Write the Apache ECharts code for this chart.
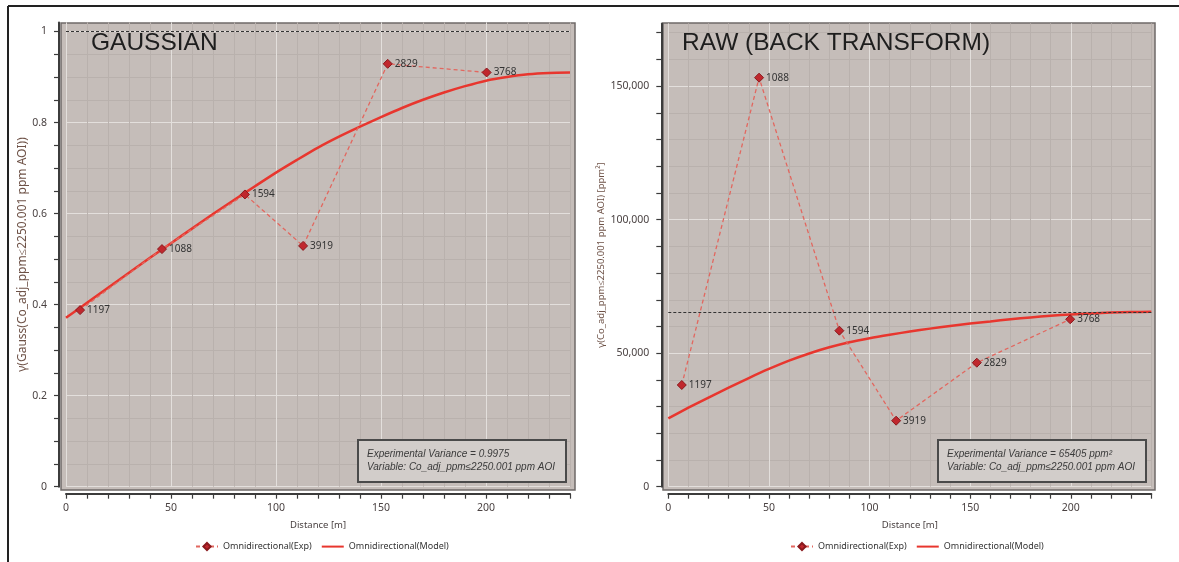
<!DOCTYPE html>
<html><head><meta charset="utf-8">
<script src="https://cdn.jsdelivr.net/npm/echarts@6/dist/echarts.min.js"></script>
<style>html,body{margin:0;padding:0;background:#fff}#c{width:1179px;height:562px}</style>
</head><body><div id="c"></div>
<script>
// ---------- data ----------
const lagPairs = ['1197', '1088', '1594', '3919', '2829', '3768'];

const gaussLagDist  = [6.7, 45.7, 85.2, 112.9, 153.2, 200.3];
const gaussLagGamma = [0.388, 0.522, 0.642, 0.529, 0.929, 0.910];
const gaussModelDist  = [0, 10, 20, 30, 40, 50, 60, 70, 80, 90, 100, 110, 120, 130, 140, 150, 160, 170, 180, 190, 200, 210, 220, 230, 240];
const gaussModelGamma = [0.371, 0.404, 0.437, 0.470, 0.503, 0.535, 0.567, 0.599, 0.630, 0.660, 0.690, 0.718, 0.745, 0.769, 0.791, 0.812, 0.832, 0.850, 0.866, 0.880, 0.892, 0.900, 0.906, 0.909, 0.910];
const gaussSill = 0.9975;

const rawLagDist  = [6.7, 45.1, 85.0, 113.2, 153.3, 199.7];
const rawLagGamma = [38090, 153180, 58430, 24720, 46440, 62700];
const rawModelDist  = [0, 10, 20, 30, 40, 50, 60, 70, 80, 90, 100, 110, 120, 130, 140, 150, 160, 170, 180, 190, 200, 210, 220, 230, 240];
const rawModelGamma = [25600, 29600, 33400, 37100, 40700, 44100, 47200, 49900, 52200, 54100, 55600, 56900, 58100, 59200, 60200, 61100, 61900, 62700, 63400, 64000, 64500, 64900, 65200, 65400, 65500];
const rawSill = 65405;

const xTickValues  = [0, 10, 20, 30, 40, 50, 60, 70, 80, 90, 100, 110, 120, 130, 140, 150, 160, 170, 180, 190, 200, 210, 220, 230, 240];
const xLabelValues = [0, 50, 100, 150, 200];
const gaussYTickValues  = [0, 0.05, 0.1, 0.15, 0.2, 0.25, 0.3, 0.35, 0.4, 0.45, 0.5, 0.55, 0.6, 0.65, 0.7, 0.75, 0.8, 0.85, 0.9, 0.95, 1];
const gaussYLabelValues = [0, 0.2, 0.4, 0.6, 0.8, 1];
const rawYTickValues  = [0, 10000, 20000, 30000, 40000, 50000, 60000, 70000, 80000, 90000, 100000, 110000, 120000, 130000, 140000, 150000, 160000, 170000];
const rawYLabelValues = [0, 50000, 100000, 150000];

const expName = 'Omnidirectional(Exp)';
const modelName = 'Omnidirectional(Model)';

// ---------- styles ----------
const FONT = 'Noto Sans';
const MAJ = '#e3dfdc', MIN = '#b9b1ad';
const AX = '#3c3c3c';
const zip = (a, b) => a.map((v, i) => [v, b[i]]);

function xAxisCfg(grid) {
  return {
    gridIndex: grid, type: 'value', min: 0, max: 240, interval: 10, offset: 7,
    axisLine: { onZero: false, lineStyle: { color: AX, width: 2 } },
    axisTick: { length: 5, lineStyle: { color: AX, width: 1.2 }, customValues: xTickValues },
    axisLabel: { customValues: xLabelValues, fontSize: 10.5, color: '#4a4242', margin: 9, fontFamily: FONT },
    splitLine: { show: true, lineStyle: { color: [MAJ, MIN, MIN, MIN, MIN], width: 1 } },
    name: 'Distance [m]', nameLocation: 'middle', nameGap: 27,
    nameTextStyle: { fontSize: 9.5, color: '#4a4242', fontFamily: FONT }
  };
}
function yAxisCfg(grid, max, interval, ticks, labels, cycle, name, gap, nameSize) {
  return {
    gridIndex: grid, type: 'value', min: 0, max: max, interval: interval, offset: 7,
    axisLine: { show: true, onZero: false, lineStyle: { color: AX, width: 2 } },
    axisTick: { show: true, length: 5, lineStyle: { color: AX, width: 1.2 }, customValues: ticks },
    axisLabel: { customValues: labels, fontSize: 10.5, color: '#4a4242', margin: 12, fontFamily: FONT },
    splitLine: { show: true, lineStyle: { color: cycle, width: 1 } },
    name: name, nameLocation: 'middle', nameGap: gap,
    nameTextStyle: { fontSize: nameSize, color: '#6e5247', fontFamily: FONT }
  };
}
function expSeries(xi, d, g) {
  return {
    name: expName, type: 'line', xAxisIndex: xi, yAxisIndex: xi, z: 4,
    data: zip(d, g), symbol: 'diamond', symbolSize: 9,
    itemStyle: { color: '#c0272d', borderColor: '#8a1a1e', borderWidth: 1 },
    lineStyle: { color: '#e2675f', type: [4, 3], width: 1.3 },
    label: { show: true, position: 'right', distance: 2, fontSize: 10, color: '#333', fontFamily: FONT,
             formatter: p => lagPairs[p.dataIndex] }
  };
}
function modelSeries(xi, d, g, sill) {
  return {
    name: modelName, type: 'line', xAxisIndex: xi, yAxisIndex: xi, z: 3,
    data: zip(d, g), symbol: 'none', smooth: 0.25,
    lineStyle: { color: '#e8362e', width: 2.5 }, itemStyle: { color: '#e8362e', opacity: 0 },
    markLine: { silent: true, symbol: 'none', label: { show: false },
      lineStyle: { color: '#333', type: [3, 2], width: 1, opacity: 1 }, data: [{ yAxis: sill }] }
  };
}
function infoBox(x, y, l1, l2) {
  return {
    type: 'group', z: 50, children: [
      { type: 'rect', z: 50, shape: { x: x, y: y, width: 208, height: 42 }, style: { fill: '#d2cdca', stroke: '#4a4a4a', lineWidth: 2 } },
      { type: 'text', z: 51, x: x + 9, y: y + 9, style: { text: l1, font: 'italic 10px "Liberation Sans"', fill: '#3a3a3a' } },
      { type: 'text', z: 51, x: x + 9, y: y + 22, style: { text: l2, font: 'italic 10px "Liberation Sans"', fill: '#3a3a3a' } }
    ]
  };
}
const legendCfg = left => ({
  left: left, top: 537, data: [expName, modelName], itemWidth: 22, itemHeight: 9, itemGap: 9,
  textStyle: { fontSize: 9, color: '#333', fontFamily: FONT }
});

const chart = echarts.init(document.getElementById('c'));
chart.setOption({
  animation: false,
  backgroundColor: '#fff',
  title: [
    { text: 'GAUSSIAN', left: 91, top: 31, padding: 0, textStyle: { fontSize: 24.5, fontWeight: 'normal', color: '#1e1e1e', fontFamily: 'Liberation Sans' } },
    { text: 'RAW (BACK TRANSFORM)', left: 682, top: 31, padding: 0, textStyle: { fontSize: 24.5, fontWeight: 'normal', color: '#1e1e1e', fontFamily: 'Liberation Sans' } }
  ],
  legend: [legendCfg(190), legendCfg(785)],
  grid: [
    { left: 61, top: 23, width: 514, height: 467, show: true, backgroundColor: '#c5bdb9', borderColor: '#6f6a68', borderWidth: 1.5, outerBoundsMode: 'none' },
    { left: 66, top: 22.4, width: 504, height: 464.3, outerBoundsMode: 'none' },
    { left: 663, top: 23, width: 492, height: 467, show: true, backgroundColor: '#c5bdb9', borderColor: '#6f6a68', borderWidth: 1.5, outerBoundsMode: 'none' },
    { left: 668.3, top: 23.4, width: 483, height: 463.3, outerBoundsMode: 'none' }
  ],
  xAxis: [
    { gridIndex: 0, type: 'value', show: false, min: 0, max: 1 },
    xAxisCfg(1),
    { gridIndex: 2, type: 'value', show: false, min: 0, max: 1 },
    xAxisCfg(3)
  ],
  yAxis: [
    { gridIndex: 0, type: 'value', show: false, min: 0, max: 1, splitLine: { show: false } },
    yAxisCfg(1, 1.02, 0.05, gaussYTickValues, gaussYLabelValues, [MAJ, MIN, MIN, MIN], 'γ(Gauss(Co_adj_ppm≤2250.001 ppm AOI))', 26, 12),
    { gridIndex: 2, type: 'value', show: false, min: 0, max: 1, splitLine: { show: false } },
    yAxisCfg(3, 173500, 10000, rawYTickValues, rawYLabelValues, [MAJ, MIN, MIN, MIN, MIN], 'γ(Co_adj_ppm≤2250.001 ppm AOI) [ppm²]', 51, 9.5)
  ],
  series: [
    modelSeries(1, gaussModelDist, gaussModelGamma, gaussSill),
    expSeries(1, gaussLagDist, gaussLagGamma),
    modelSeries(3, rawModelDist, rawModelGamma, rawSill),
    expSeries(3, rawLagDist, rawLagGamma)
  ],
  graphic: [
    { type: 'line', shape: { x1: 8, y1: 6, x2: 1179, y2: 6 }, style: { stroke: '#222', lineWidth: 2 } },
    { type: 'line', shape: { x1: 8, y1: 6, x2: 8, y2: 562 }, style: { stroke: '#222', lineWidth: 2 } },
    infoBox(358, 440, 'Experimental Variance = 0.9975', 'Variable: Co_adj_ppm≤2250.001 ppm AOI'),
    infoBox(938, 440, 'Experimental Variance = 65405 ppm²', 'Variable: Co_adj_ppm≤2250.001 ppm AOI')
  ]
});
</script>
</body></html>
